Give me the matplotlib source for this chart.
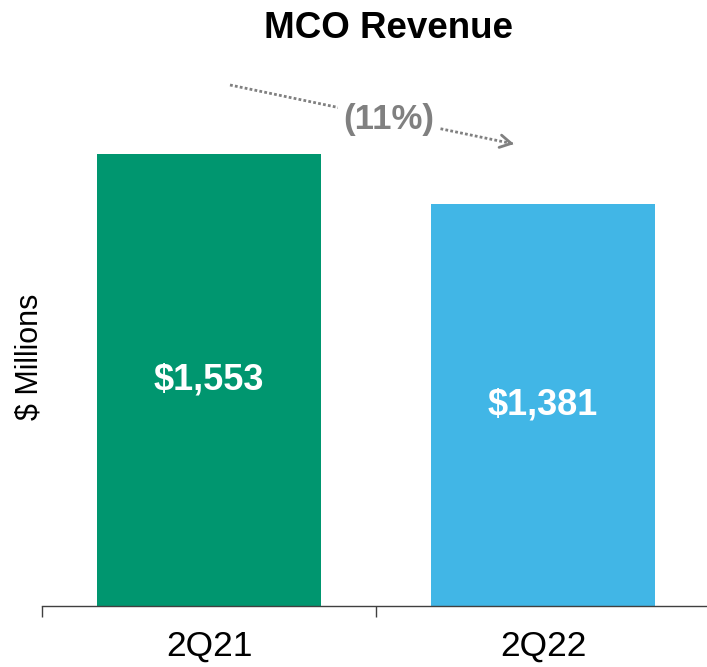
import matplotlib.pyplot as plt
from matplotlib.lines import Line2D

plt.rcParams['font.family'] = ['Liberation Sans', 'DejaVu Sans']

# data
quarters = ["2Q21", "2Q22"]
revenue = [1553, 1381]
bar_labels = ["$1,553", "$1,381"]
change_label = "(11%)"
bar_colors = ["#00966F", "#41B6E6"]

W, H = 707, 667
fig = plt.figure(figsize=(W / 100, H / 100), dpi=100)
ax = fig.add_axes([42 / W, (H - 606) / H, 668 / W, 582 / H])

x = list(range(len(quarters)))
bars = ax.bar(x, revenue, width=0.67, color=bar_colors)

for b, lab in zip(bars, bar_labels):
    ax.text(b.get_x() + b.get_width() / 2, b.get_height() / 2, lab,
            ha='center', va='center', color='white', fontsize=26, fontweight='bold')

ax.set_xlim(-0.5, 1.5)
ax.set_ylim(0, 2000)

for s in ['top', 'right', 'left']:
    ax.spines[s].set_visible(False)
ax.spines['bottom'].set_color('#404040')
ax.spines['bottom'].set_linewidth(1)
ax.set_yticks([])

ax.set_xticks(x)
ax.set_xticklabels(quarters, fontsize=25.5)
ax.tick_params(axis='x', which='major', length=0, pad=17)
ax.set_xticks([-0.5, 0.5, 1.5], minor=True)
ax.tick_params(axis='x', which='minor', length=8, width=1, color='#404040', direction='out')

fig.text(30 / W, (H - 357) / H, "$ Millions", rotation=90, ha='center', va='center', fontsize=22)
fig.text(389 / W, (H - 28) / H, "MCO Revenue", ha='center', va='center', fontsize=26.5, fontweight='bold')

# dotted trend arrow with the change label on it
grey = '#808080'
start = (230, H - 85)
end = (514, H - 144)
fig.add_artist(Line2D([start[0] / W, end[0] / W], [start[1] / H, end[1] / H],
                      transform=fig.transFigure, color=grey, lw=2,
                      linestyle=(0, (1.0, 0.8)), solid_capstyle='butt'))
ax.annotate("", xy=end, xytext=(end[0] - 5, end[1] + 1), xycoords='figure pixels',
            textcoords='figure pixels',
            arrowprops=dict(arrowstyle='->,head_length=0.8,head_width=0.45', color=grey, lw=2,
                            shrinkA=0, shrinkB=0))
fig.text(389 / W, (H - 120) / H, change_label, ha='center', va='center', fontsize=25,
         fontweight='bold', color=grey,
         bbox=dict(facecolor='white', edgecolor='none', pad=4))

fig.savefig("out.png", dpi=100)
